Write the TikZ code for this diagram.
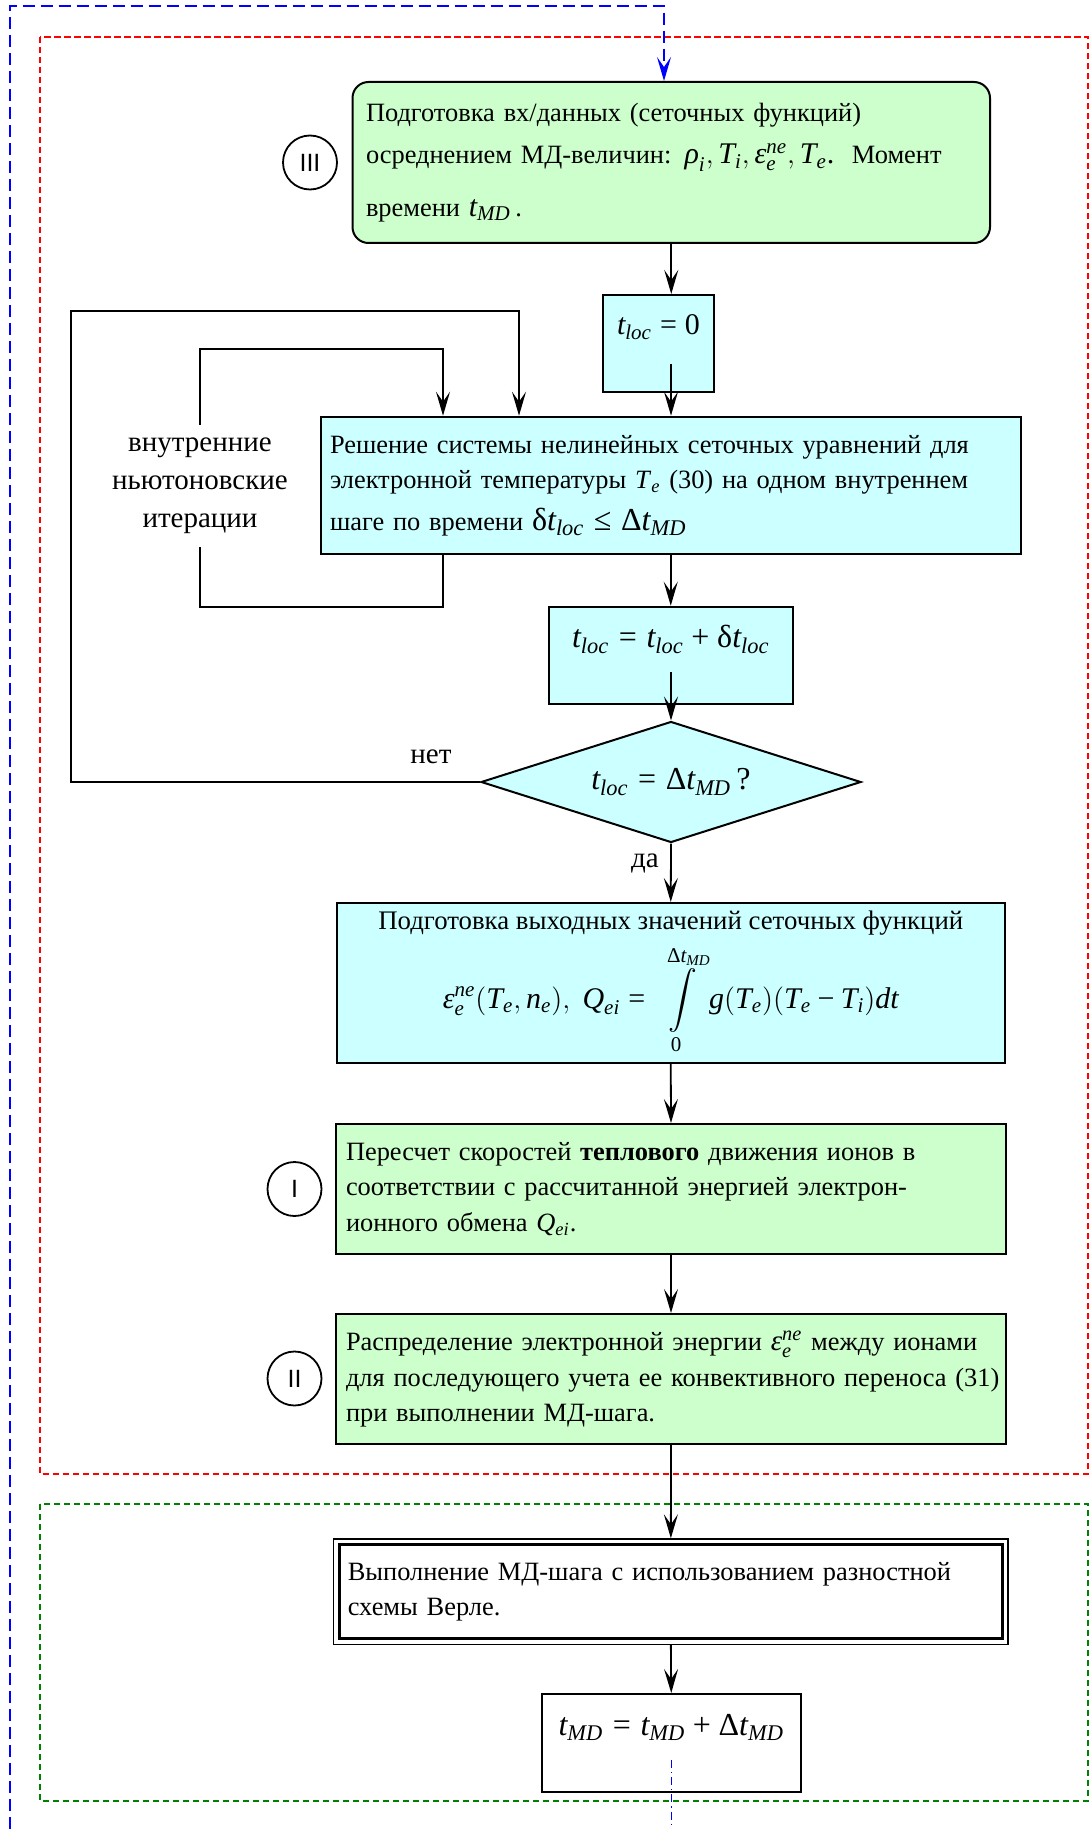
\documentclass[tikz,border=0pt]{standalone}
\usepackage{amsmath}
\usepackage{fontspec}
\setmainfont{Liberation Serif}
\newfontfamily\circf{Liberation Sans}
\usetikzlibrary{arrows.meta,shapes.geometric}
\definecolor{boxgreen}{HTML}{CCFFCC}
\definecolor{boxcyan}{HTML}{CCFFFF}
\definecolor{framegreen}{HTML}{008000}
\newcommand{\mi}[1]{\textit{#1}}
\newcommand{\mfs}{\fontsize{15}{18}\selectfont}
\newcommand{\eqs}{\mathrel{\textup{=}}}
\newcommand{\pls}{\mathbin{\textup{+}}}
\newcommand{\mns}{\mathbin{\textup{−}}}
\newcommand{\leqs}{\mathrel{\textup{≤}}}
\begin{document}
\begin{tikzpicture}[x=0.5pt,y=-0.5pt,
  font=\fontsize{13.2}{17.75}\selectfont,
  every node/.style={inner sep=0pt},
  basebox/.style={draw, line width=1pt},
  gbox/.style={basebox, fill=boxgreen},
  cbox/.style={basebox, fill=boxcyan},
  arr/.style={line width=0.9pt, -{Stealth[length=12pt,width=7pt,inset=5pt]}},
  plainline/.style={line width=0.9pt},
  romcirc/.style={circle, draw, line width=0.9pt, minimum size=27pt, font=\circf\fontsize{12.5}{12.5}\selectfont},
  framedash/.style={line width=0.9pt, dash pattern=on 3.2pt off 1.8pt},
  biglabel/.style={font=\fontsize{14.5}{19}\selectfont}
]
\useasboundingbox (0,0) rectangle (1090,1829);

% frames
\draw[framedash, red] (40,36.7) rectangle (1088,1474);
\draw[framedash, framegreen] (40,1504) rectangle (1088,1801);

% boxes
\node[gbox, rounded corners=8pt, minimum width=318.75pt, minimum height=80.5pt, text width=305.25pt, align=left] (b3) at (671.25,162.5)
 {Подготовка вх/данных (сеточных функций)\\[3.5pt]
  осреднением МД-величин: {\mfs$\mi{ρ}_{\mi{i}},\mi{T}_{\mi{i}},\mi{ε}_{\mi{e}}^{\mi{ne}},\mi{T}_{\mi{e}}$.}\ \ Момент\\[8.5pt]
  времени {\mfs$\mi{t}_{\mi{MD}}$}\,.};
\node[romcirc] (c3) at (310,162.5) {III};

\node[cbox, minimum width=55.5pt, text height=20pt, text depth=28.5pt] (t0) at (658.5,343.5)
 {\mfs$\mi{t}_{\mi{loc}}\eqs\textup{0}$};

\node[cbox, minimum width=349.75pt, minimum height=68.8pt, text width=340.75pt, align=left] (rs) at (670.75,485.5)
 {Решение системы нелинейных сеточных уравнений для\\
  электронной температуры \mi{T}\textsubscript{\mi{e}} (30) на одном внутреннем\\[3pt]
  шаге по времени {\fontsize{16}{18}\selectfont$\textup{δ}\mi{t}_{\mi{loc}}\leqs\textup{Δ}\mi{t}_{\mi{MD}}$}};

\node[align=center, minimum height=60.85pt, biglabel] (itl) at (200,485.85)
 {внутренние\\ньютоновские\\итерации};

\node[cbox, minimum width=121.75pt, text height=20.6pt, text depth=28pt] (tl) at (670.75,655.35)
 {\fontsize{16}{18}\selectfont$\mi{t}_{\mi{loc}}\eqs\mi{t}_{\mi{loc}}\pls\textup{δ}\mi{t}_{\mi{loc}}$};

\node[cbox, diamond, aspect=3.14, minimum width=190pt, minimum height=60.5pt] (dm) at (671,782)
 {\fontsize{16}{18}\selectfont$\mi{t}_{\mi{loc}}\eqs\textup{Δ}\mi{t}_{\mi{MD}}$\,?};
\node[biglabel] (net) at (431,757) {нет};
\node[biglabel] (da) at (645,863) {да};

\node[cbox, minimum width=334.25pt, minimum height=80pt, align=center, font=\fontsize{13.4}{17.75}\selectfont] (ob) at (670.75,983)
 {Подготовка выходных значений сеточных функций\\[4pt]
  {\mfs$\displaystyle\mi{ε}_{\mi{e}}^{\mi{ne}}(\mi{T}_{\mi{e}},\mi{n}_{\mi{e}}),\ \mi{Q}_{\mi{ei}}\eqs\ \int\limits_{\textup{0}}^{\textup{Δ}\mi{t}_{\mi{MD}}}\mi{g}(\mi{T}_{\mi{e}})(\mi{T}_{\mi{e}}\mns\mi{T}_{\mi{i}})\mi{dt}$}};

\node[gbox, minimum width=335pt, minimum height=65pt, text width=325pt, align=left] (b1) at (671,1189)
 {Пересчет скоростей \textbf{теплового} движения ионов в\\
  соответствии с рассчитанной энергией электрон-\\
  ионного обмена \mi{Q}\textsubscript{\mi{ei}}.};
\node[romcirc] (c1) at (294.5,1189) {I};

\node[gbox, minimum width=335pt, minimum height=65pt, text width=325pt, align=left] (b2) at (671,1379)
 {Распределение электронной энергии {\fontsize{14.5}{17}\selectfont$\mi{ε}_{\mi{e}}^{\mi{ne}}$} между ионами\\
  \mbox{для последующего учета ее конвективного переноса (31)}\\
  при выполнении МД-шага.};
\node[romcirc] (c2) at (294.5,1378.5) {II};

\node[basebox, line width=0.7pt, fill=white, minimum width=337.15pt, minimum height=52.65pt, text width=323pt, align=left] (db) at (670.85,1591.65)
 {Выполнение МД-шага с использованием разностной\\
  схемы Верле.};
\draw[line width=1.4pt] ([shift={(3.2pt,-3.2pt)}]db.north west) rectangle ([shift={(-3.2pt,3.2pt)}]db.south east);

\node[basebox, fill=white, minimum width=129.75pt, text height=20.5pt, text depth=28.5pt] (tm) at (671.25,1743)
 {\fontsize{16}{18}\selectfont$\mi{t}_{\mi{MD}}\eqs\mi{t}_{\mi{MD}}\pls\textup{Δ}\mi{t}_{\mi{MD}}$};

% connectors
\draw[arr] (b3.south) -- (b3.south |- t0.north);
\coordinate (t0out) at (671,364);
\draw[arr] (t0out) -- (t0out |- rs.north);
\draw[arr] (rs.south) -- (tl.north);
\coordinate (tlout) at (671,672);
\draw[arr] (tlout) -- (dm.north);
\draw[arr] (dm.south) -- (ob.north);
\draw[arr] (ob.south) -- (b1.north);
\draw[arr] (b1.south) -- (b2.north);
\draw[arr] (b2.south) -- (db.north);
\draw[arr] (db.south) -- (tm.north);

% outer loop (нет)
\coordinate (ol) at (71,311);
\coordinate (ot) at (519,311);
\draw[arr] (dm.west) -| (ol) -- (ot) -- (ot |- rs.north);

% inner loop
\coordinate (ib) at (443,606.7);
\coordinate (it) at (443,349);
\draw[plainline] (rs.south -| ib) -- (ib) -| (itl.south);
\draw[arr] (itl.north) |- (it) -- (it |- rs.north);

% blue return
\coordinate (bb) at (9.7,1829);
\coordinate (bt) at (664,6);
\draw[blue, line width=1pt, dash pattern=on 6pt off 3pt, -{Stealth[length=12pt,width=7pt,inset=5pt]}] (bb) |- (bt) -- (bt |- b3.north);
\coordinate (tmout) at (671.25,1760);
\coordinate (tmend) at (671.25,1829);
\draw[blue, line width=0.7pt, dash pattern=on 4pt off 2pt on 0.6pt off 2pt] (tmout) -- (tmend);
\end{tikzpicture}
\end{document}
